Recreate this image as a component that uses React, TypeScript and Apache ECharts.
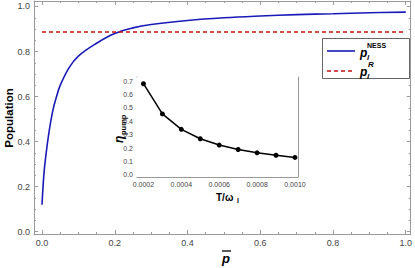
import React, { useEffect, useRef } from "react";
import * as echarts from "echarts";

// Main plot data
const pX = [0, 0.005, 0.01, 0.02, 0.03, 0.04, 0.05, 0.075, 0.1, 0.15, 0.2, 0.25, 0.3, 0.4, 0.5, 0.6, 0.7, 0.8, 0.9, 1.0];
const pNESS = [0.12, 0.25, 0.33, 0.45, 0.54, 0.6, 0.65, 0.73, 0.78, 0.837, 0.88, 0.905, 0.92, 0.938, 0.95, 0.958, 0.964, 0.968, 0.972, 0.975];
const pR = 0.887;

// Inset data
const tX = [0.0002, 0.0003, 0.0004, 0.0005, 0.0006, 0.0007, 0.0008, 0.0009, 0.001];
const eta = [0.68, 0.455, 0.34, 0.27, 0.223, 0.19, 0.165, 0.147, 0.131];

// Tick values
const mainXMajor = [0, 0.2, 0.4, 0.6, 0.8, 1.0];
const mainYMajor = [0, 0.2, 0.4, 0.6, 0.8, 1.0];
const insetXMajor = [0.0002, 0.0004, 0.0006, 0.0008, 0.001];
const insetYMajor = [0, 0.1, 0.2, 0.3, 0.4, 0.5, 0.6, 0.7];

function minors(start: number, end: number, step: number, majors: number[]) {
  const out: number[] = [];
  const n = Math.round((end - start) / step);
  for (let i = 0; i <= n; i++) {
    const v = +(start + i * step).toFixed(8);
    if (!majors.some((m) => Math.abs(m - v) < step / 10)) out.push(v);
  }
  return out;
}

const FRAME = "#9a9a9a";
const LABEL = "#444";
const FONT = "Liberation Sans, Arial, sans-serif";

export default function App() {
  const ref = useRef<HTMLDivElement>(null);
  useEffect(() => {
    if (!ref.current) return;
    const chart = echarts.init(ref.current, undefined, { renderer: "svg" });

    const mxMin = minors(-0.05, 1.0, 0.05, mainXMajor).filter((v) => v > -0.022);
    const myMin = minors(0, 1.0, 0.05, mainYMajor);
    const ixMin = minors(0.00015, 0.001, 0.00005, insetXMajor).filter((v) => v > 0.000166);
    const iyMin = minors(0, 0.72, 0.02, insetYMajor);

    const mainX = { min: -0.022, max: 1.0137 };
    const mainY = { min: -0.0102, max: 1.0244 };
    const insX = { min: 0.000166, max: 0.001016 };
    const insY = { min: -0.015, max: 0.73 };

    const axis = (
      gridIndex: number,
      position: string,
      range: { min: number; max: number },
      ticks: number[],
      len: number,
      labels: number[] | null,
      fmt: (v: number) => string,
      fontSize: number,
      showLine: boolean
    ) => ({
      type: "value",
      gridIndex,
      position,
      min: range.min,
      max: range.max,
      splitLine: { show: false },
      axisLine: { show: showLine, onZero: false, lineStyle: { color: FRAME, width: 1 } },
      axisTick: {
        show: true,
        inside: true,
        length: len,
        customValues: ticks,
        lineStyle: { color: FRAME, width: 1 },
      },
      axisLabel: labels
        ? {
            show: true,
            customValues: labels,
            formatter: fmt,
            color: LABEL,
            fontSize,
            fontFamily: FONT,
            margin: 4,
          }
        : { show: false },
    });

    const f1 = (v: number) => v.toFixed(1);
    const f4 = (v: number) => v.toFixed(4);

    const xAxis = [
      axis(0, "bottom", mainX, mainXMajor, 4, mainXMajor, f1, 9, true),
      axis(0, "bottom", mainX, mxMin, 2, null, f1, 9, false),
      axis(0, "top", mainX, mainXMajor, 4, null, f1, 9, true),
      axis(0, "top", mainX, mxMin, 2, null, f1, 9, false),
      axis(1, "bottom", insX, insetXMajor, 3, insetXMajor, f4, 7, true),
      axis(1, "bottom", insX, ixMin, 1.5, null, f4, 7, false),
      axis(1, "top", insX, insetXMajor, 3, null, f4, 7, true),
      axis(1, "top", insX, ixMin, 1.5, null, f4, 7, false),
    ];
    const yAxis = [
      axis(0, "left", mainY, mainYMajor, 4, mainYMajor, f1, 9, true),
      axis(0, "left", mainY, myMin, 2, null, f1, 9, false),
      axis(0, "right", mainY, mainYMajor, 4, null, f1, 9, true),
      axis(0, "right", mainY, myMin, 2, null, f1, 9, false),
      axis(1, "left", insY, insetYMajor, 3, insetYMajor, f1, 7, true),
      axis(1, "left", insY, iyMin, 1.5, null, f1, 7, false),
      axis(1, "right", insY, insetYMajor, 3, null, f1, 7, true),
      axis(1, "right", insY, iyMin, 1.5, null, f1, 7, false),
    ];

    const tStyle = (extra: any) => ({ fontFamily: FONT, fill: "#000", ...extra });

    chart.setOption({
      animation: false,
      backgroundColor: "#fff",
      grid: [
        { left: 34, right: 3, top: 1, bottom: 34, containLabel: false },
        {
          left: 137,
          right: 117,
          top: 77,
          bottom: 91,
          show: true,
          backgroundColor: "#fff",
          borderWidth: 0,
          z: 5,
        },
      ],
      xAxis,
      yAxis,
      series: [
        {
          type: "line",
          xAxisIndex: 0,
          yAxisIndex: 0,
          data: pX.map((x, i) => [x, pNESS[i]]),
          smooth: 0.4,
          showSymbol: false,
          lineStyle: { color: "#1a1ab8", width: 1.6 },
        },
        {
          type: "line",
          xAxisIndex: 0,
          yAxisIndex: 0,
          data: [
            [0, pR],
            [1, pR],
          ],
          showSymbol: false,
          lineStyle: { color: "#cc1111", width: 1.5, type: [4, 3] },
        },
        {
          type: "line",
          xAxisIndex: 4,
          yAxisIndex: 4,
          data: tX.map((x, i) => [x, eta[i]]),
          symbol: "circle",
          symbolSize: 5,
          itemStyle: { color: "#000" },
          lineStyle: { color: "#000", width: 1.5 },
          z: 10,
        },
      ],
      graphic: [
        // Main axis titles
        {
          type: "text",
          x: 9,
          y: 118,
          rotation: Math.PI / 2,
          style: tStyle({ text: "Population", fontSize: 11.5, fontWeight: "bold", align: "center", verticalAlign: "middle" }),
        },
        {
          type: "text",
          x: 226,
          y: 258,
          style: tStyle({ text: "p", fontSize: 13, fontWeight: "bold", fontStyle: "italic", align: "center", verticalAlign: "middle" }),
        },
        { type: "line", shape: { x1: 222, y1: 251, x2: 231, y2: 251 }, style: { stroke: "#000", lineWidth: 1.3 } },
        // Legend
        {
          type: "rect",
          shape: { x: 322.5, y: 38.5, width: 87, height: 40 },
          style: { fill: "#fff", stroke: "#666", lineWidth: 1 },
          z: 20,
        },
        { type: "line", shape: { x1: 327, y1: 51, x2: 355, y2: 51 }, style: { stroke: "#1a1ab8", lineWidth: 1.6 }, z: 21 },
        { type: "line", shape: { x1: 327, y1: 71, x2: 355, y2: 71 }, style: { stroke: "#cc1111", lineWidth: 1.5, lineDash: [4, 3] }, z: 21 },
        { type: "text", x: 360, y: 53, style: tStyle({ text: "p", fontSize: 12, fontWeight: "bold", fontStyle: "italic", verticalAlign: "middle" }), z: 21 },
        { type: "text", x: 367, y: 57, style: tStyle({ text: "l", fontSize: 8, fontWeight: "bold", fontStyle: "italic", verticalAlign: "middle" }), z: 21 },
        { type: "text", x: 367, y: 45, style: tStyle({ text: "NESS", fontSize: 7, fontWeight: "bold", verticalAlign: "middle" }), z: 21 },
        { type: "text", x: 360, y: 72, style: tStyle({ text: "p", fontSize: 12, fontWeight: "bold", fontStyle: "italic", verticalAlign: "middle" }), z: 21 },
        { type: "text", x: 367, y: 76, style: tStyle({ text: "l", fontSize: 8, fontWeight: "bold", fontStyle: "italic", verticalAlign: "middle" }), z: 21 },
        { type: "text", x: 368, y: 64, style: tStyle({ text: "R", fontSize: 8, fontWeight: "bold", fontStyle: "italic", verticalAlign: "middle" }), z: 21 },
        // Inset titles
        {
          type: "group",
          x: 119,
          y: 126,
          rotation: Math.PI / 2,
          children: [
            { type: "text", x: -17, y: 0, style: tStyle({ text: "η", fontSize: 12, fontWeight: "bold", fontStyle: "italic", verticalAlign: "middle" }) },
            { type: "text", x: -9, y: 4, style: tStyle({ text: "pump", fontSize: 7.5, fontWeight: "bold", verticalAlign: "middle" }) },
          ],
        },
        { type: "text", x: 216, y: 197, style: tStyle({ text: "T/ω", fontSize: 10, fontWeight: "bold", verticalAlign: "middle" }) },
        { type: "text", x: 237, y: 200, style: tStyle({ text: "l", fontSize: 7, fontWeight: "bold", verticalAlign: "middle" }) },
      ],
    });
    return () => chart.dispose();
  }, []);
  return <div ref={ref} style={{ position: "fixed", left: 0, top: 0, width: 415, height: 268 }} />;
}
